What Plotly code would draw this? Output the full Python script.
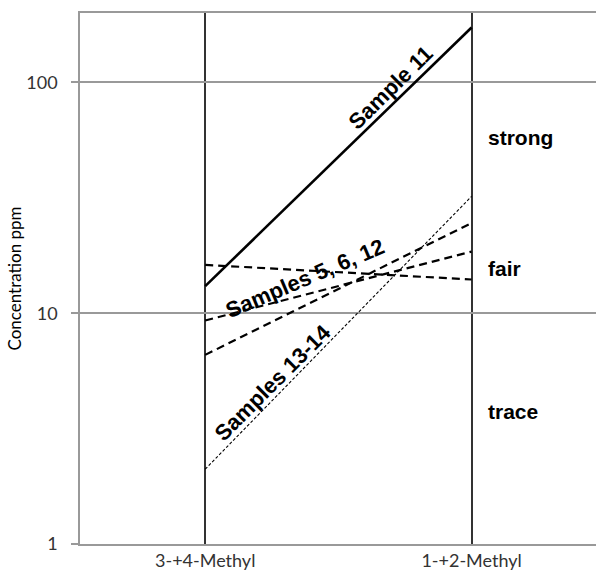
import math
import plotly.graph_objects as go

# ---- data ----
categories = ["3-+4-Methyl", "1-+2-Methyl"]
cat_pos = [0, 1]
sample_11 = [13.1, 173]
samples_a = [16.2, 14.0]   # Samples 5, 6, 12 (decreasing)
samples_b = [9.3, 18.5]
samples_c = [6.6, 24.6]
samples_13_14 = [2.11, 32.1]
y_tick_vals = [1, 10, 100]
y_tick_text = ["1", "10", "100"]
band_labels = ["strong", "fair", "trace"]
band_values = [58, 15.6, 3.74]

fig = go.Figure()

fig.add_trace(go.Scatter(x=cat_pos, y=sample_11, mode="lines",
                         line=dict(color="#000000", width=2.6), showlegend=False))
for ser in (samples_a, samples_b, samples_c):
    fig.add_trace(go.Scatter(x=cat_pos, y=ser, mode="lines",
                             line=dict(color="#000000", width=2.2, dash="8px,5px"),
                             showlegend=False))
fig.add_trace(go.Scatter(x=cat_pos, y=samples_13_14, mode="lines",
                         line=dict(color="#000000", width=1.1, dash="3px,2px"),
                         showlegend=False))

lab_font = dict(family="Liberation Sans, Arial, sans-serif", size=21, color="#000000")
rot_font = dict(family="Liberation Sans, Arial, sans-serif", size=22, color="#000000")
anns = []
for txt, v in zip(band_labels, band_values):
    anns.append(dict(x=1.054, y=math.log10(v), xref="x", yref="y", text="<b>%s</b>" % txt,
                     showarrow=False, xanchor="left", yanchor="middle", font=lab_font))
anns.append(dict(x=0.697, y=1.977, xref="x", yref="y", text="<b>Sample 11</b>",
                 showarrow=False, textangle=-44.6, font=rot_font))
anns.append(dict(x=0.374, y=1.15, xref="x", yref="y", text="<b>Samples 5, 6, 12</b>",
                 showarrow=False, textangle=-23, font=rot_font))
anns.append(dict(x=0.254, y=0.699, xref="x", yref="y", text="<b>Samples 13-14</b>",
                 showarrow=False, textangle=-45, font=rot_font))

y_font = dict(family="Lato, sans-serif", size=18, color="#333333")
x_font = dict(family="Lato, sans-serif", size=18, color="#333333")

fig.update_layout(
    width=596, height=571,
    margin=dict(l=80, r=0, t=13, b=27, autoexpand=False),
    paper_bgcolor="white", plot_bgcolor="white",
    annotations=anns,
    xaxis=dict(range=[-0.47, 1.467], tickvals=cat_pos, ticktext=categories,
               showgrid=True, gridcolor="#333333", gridwidth=2,
               showline=True, linecolor="#999999", linewidth=1.5, mirror=True,
               ticks="", tickfont=x_font, zeroline=False, ticklabelstandoff=0,
               automargin=False),
    yaxis=dict(type="log", range=[0, math.log10(200)], tickvals=y_tick_vals,
               ticktext=y_tick_text, showgrid=True, gridcolor="#999999", gridwidth=1.5,
               showline=True, linecolor="#999999", linewidth=1.5,
               ticks="outside", ticklen=7, tickcolor="#999999", tickwidth=1.5,
               tickfont=y_font, ticklabelstandoff=10, zeroline=False, automargin=False,
               title=dict(text="Concentration ppm", standoff=0,
                          font=dict(family="Lato, sans-serif", size=17, color="#000000"))),
)

fig.write_html("out.html", config={"displayModeBar": False},
               post_script="document.body.style.margin='0';document.body.style.overflow='hidden';")
